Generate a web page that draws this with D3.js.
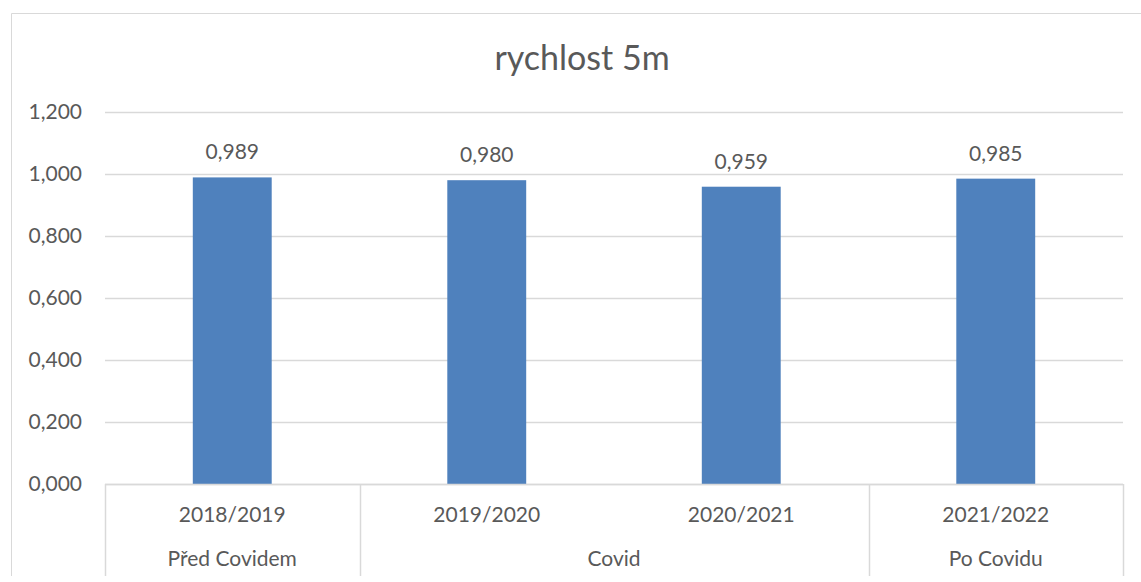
<!DOCTYPE html>
<html><head><meta charset="utf-8">
<script src="https://cdn.jsdelivr.net/npm/d3@7"></script>
<style>
html,body{margin:0;padding:0;background:#fff;}
svg{display:block;font-family:Lato,"Open Sans",sans-serif;}
</style></head>
<body>
<svg id="c" width="1141" height="582"></svg>
<script>
const title = "rychlost 5m";
const categories = ["2018/2019","2019/2020","2020/2021","2021/2022"];
const values = [0.989, 0.980, 0.959, 0.985];
const groups = ["Před Covidem","Covid","Covid","Po Covidu"];
const groupLabels = ["Před Covidem","Covid","Po Covidu"];
const yTicks = [0, 0.2, 0.4, 0.6, 0.8, 1.0, 1.2];

const loc = d3.formatLocale({decimal:",", thousands:" ", grouping:[3], currency:["",""]});
const fmt = loc.format(".3f");

const svg = d3.select("#c");
const L = 105, R = 1123, T = 112, B = 484;
const grid = "#d9d9d9", txt = "#595959";

// chart border
svg.append("line").attr("x1",11.5).attr("x2",1141).attr("y1",13.5).attr("y2",13.5).attr("stroke",grid);
svg.append("line").attr("x1",11.5).attr("x2",11.5).attr("y1",13.5).attr("y2",576).attr("stroke",grid);

const x = d3.scaleBand().domain(categories).range([L,R]).padding(0);
const y = d3.scaleLinear().domain([0,1.2]).range([B,T]);

// gridlines
svg.append("g").selectAll("line").data(yTicks).join("line")
  .attr("x1",L).attr("x2",R)
  .attr("y1",d=>Math.round(y(d))+0.5).attr("y2",d=>Math.round(y(d))+0.5)
  .attr("stroke",grid).attr("stroke-width",1.5);

// y labels
svg.append("g").selectAll("text").data(yTicks).join("text")
  .attr("x",82).attr("y",d=>y(d)).attr("dy","0.35em")
  .attr("text-anchor","end").attr("fill",txt).attr("font-size",21)
  .text(d=>fmt(d));

// bars
const bw = x.bandwidth()*0.31;
svg.append("g").selectAll("rect").data(values).join("rect")
  .attr("x",(d,i)=>x(categories[i])+x.bandwidth()/2-bw/2)
  .attr("width",bw)
  .attr("y",d=>y(d)).attr("height",d=>y(0)-y(d))
  .attr("fill","#4f81bd");

// data labels
svg.append("g").selectAll("text").data(values).join("text")
  .attr("x",(d,i)=>x(categories[i])+x.bandwidth()/2)
  .attr("y",d=>y(d)-18)
  .attr("text-anchor","middle").attr("fill",txt).attr("font-size",21)
  .text(d=>fmt(d));

// axis line
svg.append("line").attr("x1",L).attr("x2",R).attr("y1",B+0.5).attr("y2",B+0.5).attr("stroke",grid).attr("stroke-width",1.5);

// category labels
svg.append("g").selectAll("text").data(categories).join("text")
  .attr("x",d=>x(d)+x.bandwidth()/2).attr("y",522)
  .attr("text-anchor","middle").attr("fill",txt).attr("font-size",21)
  .text(d=>d);

// group separators and labels
const spans = groupLabels.map(g=>{
  const idx = groups.map((v,i)=>v===g?i:-1).filter(i=>i>=0);
  return {g, x0:x(categories[idx[0]]), x1:x(categories[idx[idx.length-1]])+x.bandwidth()};
});
const seps = [L, ...spans.map(s=>s.x1)];
svg.append("g").selectAll("line").data(seps).join("line")
  .attr("x1",d=>Math.round(d)+0.5).attr("x2",d=>Math.round(d)+0.5)
  .attr("y1",B).attr("y2",576).attr("stroke",grid).attr("stroke-width",1.5);
svg.append("g").selectAll("text").data(spans).join("text")
  .attr("x",d=>(d.x0+d.x1)/2).attr("y",566)
  .attr("text-anchor","middle").attr("fill",txt).attr("font-size",21)
  .text(d=>d.g);

// title
svg.append("text").attr("x",582).attr("y",70).attr("text-anchor","middle")
  .attr("fill",txt).attr("font-size",34).text(title);
</script>
</body></html>
